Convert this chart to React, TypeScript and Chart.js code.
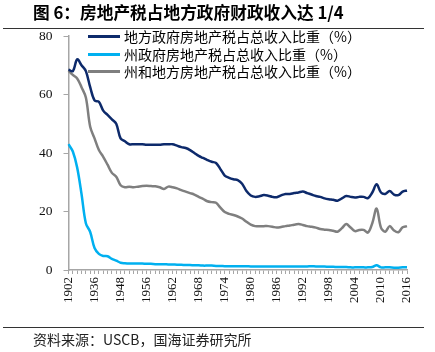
import React, { useEffect, useRef } from 'react';
import { Chart, registerables } from 'chart.js';

Chart.register(...registerables);

const years = [
  '1902', '1913', '1922', '1927', '1932', '1934', '1936', '1938', '1940', '1942',
  '1944', '1946', '1948', '1950', '1952', '1953', '1954', '1955', '1956', '1957',
  '1958', '1959', '1960', '1961', '1962', '1963', '1964', '1965', '1966', '1967',
  '1968', '1969', '1970', '1971', '1972', '1973', '1974', '1975', '1976', '1977',
  '1978', '1979', '1980', '1981', '1982', '1983', '1984', '1985', '1986', '1987',
  '1988', '1989', '1990', '1991', '1992', '1993', '1994', '1995', '1996', '1997',
  '1998', '1999', '2000', '2001', '2002', '2003', '2004', '2005', '2006', '2007',
  '2008', '2009', '2010', '2011', '2012', '2013', '2014', '2015', '2016',
];

const localShare = [
  68.5, 68, 72, 70, 68, 62.5, 58, 57.5, 54.5, 53,
  51.5, 50, 45, 44, 43, 43, 43, 43, 42.8, 42.8,
  42.8, 42.8, 43, 43, 43, 42.5, 42, 41.7, 41, 40,
  39, 38.3, 37.6, 37, 36.6, 34.5, 32.3, 31.5, 31, 30.7,
  29.5, 27, 25.5, 25, 25.2, 25.6, 25.4, 25, 24.9, 25.5,
  26, 26, 26.3, 26.5, 26.8, 26.3, 25.8, 25.3, 25, 24.5,
  24.2, 24, 23.7, 24.5, 25.3, 25, 24.8, 25, 25, 24.6,
  26.5, 29.3, 26.5, 26, 27, 25.8, 25.6, 26.8, 27.2,
];

const stateShare = [
  43, 40.5, 35, 26, 16, 13, 7.5, 5.5, 4.8, 4.7,
  3.8, 3.2, 2.5, 2.3, 2.2, 2.2, 2.2, 2.2, 2.1, 2.1,
  2.0, 2.0, 2.0, 1.9, 1.9, 1.8, 1.8, 1.7, 1.7, 1.6,
  1.6, 1.5, 1.5, 1.5, 1.4, 1.4, 1.3, 1.3, 1.3, 1.3,
  1.3, 1.3, 1.2, 1.2, 1.2, 1.2, 1.2, 1.2, 1.2, 1.2,
  1.2, 1.2, 1.2, 1.2, 1.2, 1.2, 1.3, 1.2, 1.2, 1.2,
  1.1, 1.1, 1.0, 1.0, 1.0, 0.9, 0.9, 0.9, 0.9, 0.9,
  1.0, 1.6, 0.9, 0.9, 0.9, 0.8, 0.8, 0.9, 0.9,
];

const combinedShare = [
  68.2, 66.7, 65.5, 62.5, 59, 49, 45, 41, 38.7, 36,
  33.2, 31.9, 29, 28.3, 28.5, 28.3, 28.5, 28.7, 28.8, 28.7,
  28.6, 28.3, 27.7, 28.5, 28.3, 27.9, 27.3, 26.8, 26.3, 25.8,
  25, 24.3, 23.5, 23.2, 23, 21.3, 19.8, 19.2, 18.8, 18.3,
  17.6, 16.5, 15.5, 15, 15, 15, 15, 14.8, 14.5, 14.7,
  15, 15.2, 15.5, 15.7, 15.4, 15, 14.8, 14.5, 14, 13.8,
  13.7, 13.4, 13.1, 14.3, 15.7, 14.5, 13.3, 13.7, 13.7, 12.8,
  16, 21, 14.5, 13.1, 15, 13.5, 12.9, 14.6, 15,
];

const seriesNames = [
  '地方政府房地产税占总收入比重（%）',
  '州政府房地产税占总收入比重（%）',
  '州和地方房地产税占总收入比重（%）',
];
const seriesColors = ['#0d2a6b', '#00b0f0', '#7f7f7f'];

const yTicks = [0, 20, 40, 60, 80];
const labelEvery = 6;

const titleText = '图 6：房地产税占地方政府财政收入达 1/4';
const sourceText = '资料来源：USCB，国海证券研究所';

export default function App() {
  const canvasRef = useRef<HTMLCanvasElement | null>(null);

  useEffect(() => {
    const canvas = canvasRef.current;
    if (!canvas) return;
    const seriesData = [localShare, stateShare, combinedShare];
    const chart = new Chart(canvas, {
      type: 'line',
      data: {
        labels: years,
        datasets: seriesNames.map((name, k) => ({
          label: name,
          data: seriesData[k],
          borderColor: seriesColors[k],
          backgroundColor: seriesColors[k],
          borderWidth: 2.5,
          pointRadius: 0,
          tension: 0.35,
          fill: false,
        })),
      },
      options: {
        animation: false,
        responsive: false,
        maintainAspectRatio: false,
        layout: { padding: { left: 28, top: 36, right: 28, bottom: 46 } },
        plugins: {
          legend: { display: false },
          tooltip: { enabled: false },
        },
        scales: {
          x: {
            type: 'category',
            offset: false,
            grid: {
              display: true,
              drawOnChartArea: false,
              drawTicks: true,
              tickLength: 4,
              color: '#a6a6a6',
            },
            border: { display: true, color: '#a6a6a6', width: 1.5 },
            ticks: {
              autoSkip: false,
              maxRotation: 90,
              minRotation: 90,
              padding: 3,
              color: '#111',
              font: { family: 'Liberation Serif', size: 13 },
              callback: (_v: any, i: number) => (i % labelEvery === 0 ? years[i] : ''),
            },
          },
          y: {
            min: 0,
            max: 80,
            afterBuildTicks: (scale: any) => {
              scale.ticks = yTicks.map((v) => ({ value: v }));
            },
            grid: {
              display: true,
              drawOnChartArea: false,
              drawTicks: true,
              tickLength: 5,
              color: '#a6a6a6',
            },
            border: { display: true, color: '#a6a6a6', width: 1.5 },
            ticks: {
              padding: 11,
              color: '#111',
              font: { family: 'Liberation Serif', size: 13.5 },
            },
          },
        },
      },
    });
    return () => chart.destroy();
  }, []);

  return (
    <div style={{ position: 'absolute', left: 0, top: 0, width: 435, height: 352, background: '#fff', overflow: 'hidden' }}>
      <canvas ref={canvasRef} width={435} height={352} style={{ position: 'absolute', left: 0, top: 0, width: 435, height: 352 }} />
      <div
        style={{
          position: 'absolute', left: 33, top: 2, fontFamily: '"Noto Sans CJK SC", "Liberation Sans", sans-serif',
          fontWeight: 700, fontSize: 16.7, lineHeight: '20px', color: '#000', whiteSpace: 'nowrap',
        }}
      >
        {titleText}
      </div>
      <div style={{ position: 'absolute', left: 3, top: 28, width: 421, height: 1, background: '#333' }} />
      {seriesNames.map((name, k) => (
        <div key={name} style={{ position: 'absolute', left: 88, top: 28 + k * 17.7, height: 17, display: 'flex', alignItems: 'center', whiteSpace: 'nowrap' }}>
          <div style={{ width: 32, height: 3, background: seriesColors[k], marginRight: 4 }} />
          <span style={{ fontFamily: '"Noto Sans CJK SC", sans-serif', fontSize: 14, color: '#000', lineHeight: '17px' }}>{name}</span>
        </div>
      ))}
      <div style={{ position: 'absolute', left: 3, top: 327, width: 421, height: 1, background: '#333' }} />
      <div
        style={{
          position: 'absolute', left: 33, top: 331, fontFamily: '"Noto Sans CJK SC", "Liberation Sans", sans-serif',
          fontSize: 14, lineHeight: '16px', color: '#222', whiteSpace: 'nowrap',
        }}
      >
        {sourceText}
      </div>
    </div>
  );
}
